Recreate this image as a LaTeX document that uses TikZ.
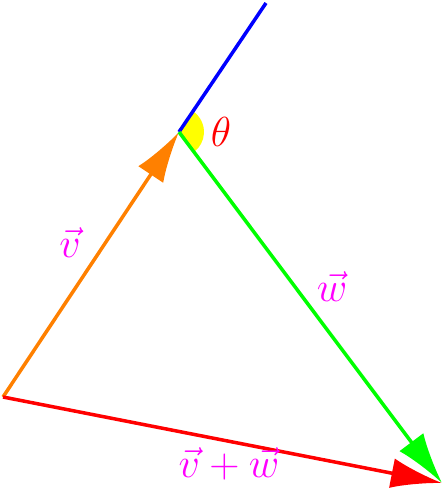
\documentclass[tikz,border=0pt]{standalone}
\usetikzlibrary{arrows.meta}
\definecolor{mag}{RGB}{255,0,255}
\definecolor{yel}{RGB}{255,255,0}
\begin{document}
\begin{tikzpicture}[x=0.02cm,y=-0.02cm,
  vec/.style={line width=2pt,-{Latex[length=1.02cm,width=0.6cm]}},
  lbl/.style={text=mag,font=\huge,scale=1.15}]
\useasboundingbox (0,0) rectangle (444,491);
\coordinate (O) at (3,397);
\coordinate (V) at (179,132);
\coordinate (W) at (442,483);
\coordinate (B) at (266,3);
\fill[yel] (V) -- ++(56.2:0.5cm) arc[start angle=56.2,end angle=-53.1,radius=0.5cm] -- cycle;
\draw[blue,line width=2pt] (V) -- (B);
\draw[vec,orange] (O) -- (V);
\draw[vec,green] (V) -- (W);
\draw[vec,red] (O) -- (W);
\node[lbl] (lv) at (70,243) {$\vec{v}$};
\node[lbl] (lw) at (332,287) {$\vec{w}$};
\node[lbl] (ls) at (229,464) {$\vec{v}+\vec{w}$};
\node[lbl,text=red] (lt) at (221,132) {$\theta$};
\end{tikzpicture}
\end{document}
